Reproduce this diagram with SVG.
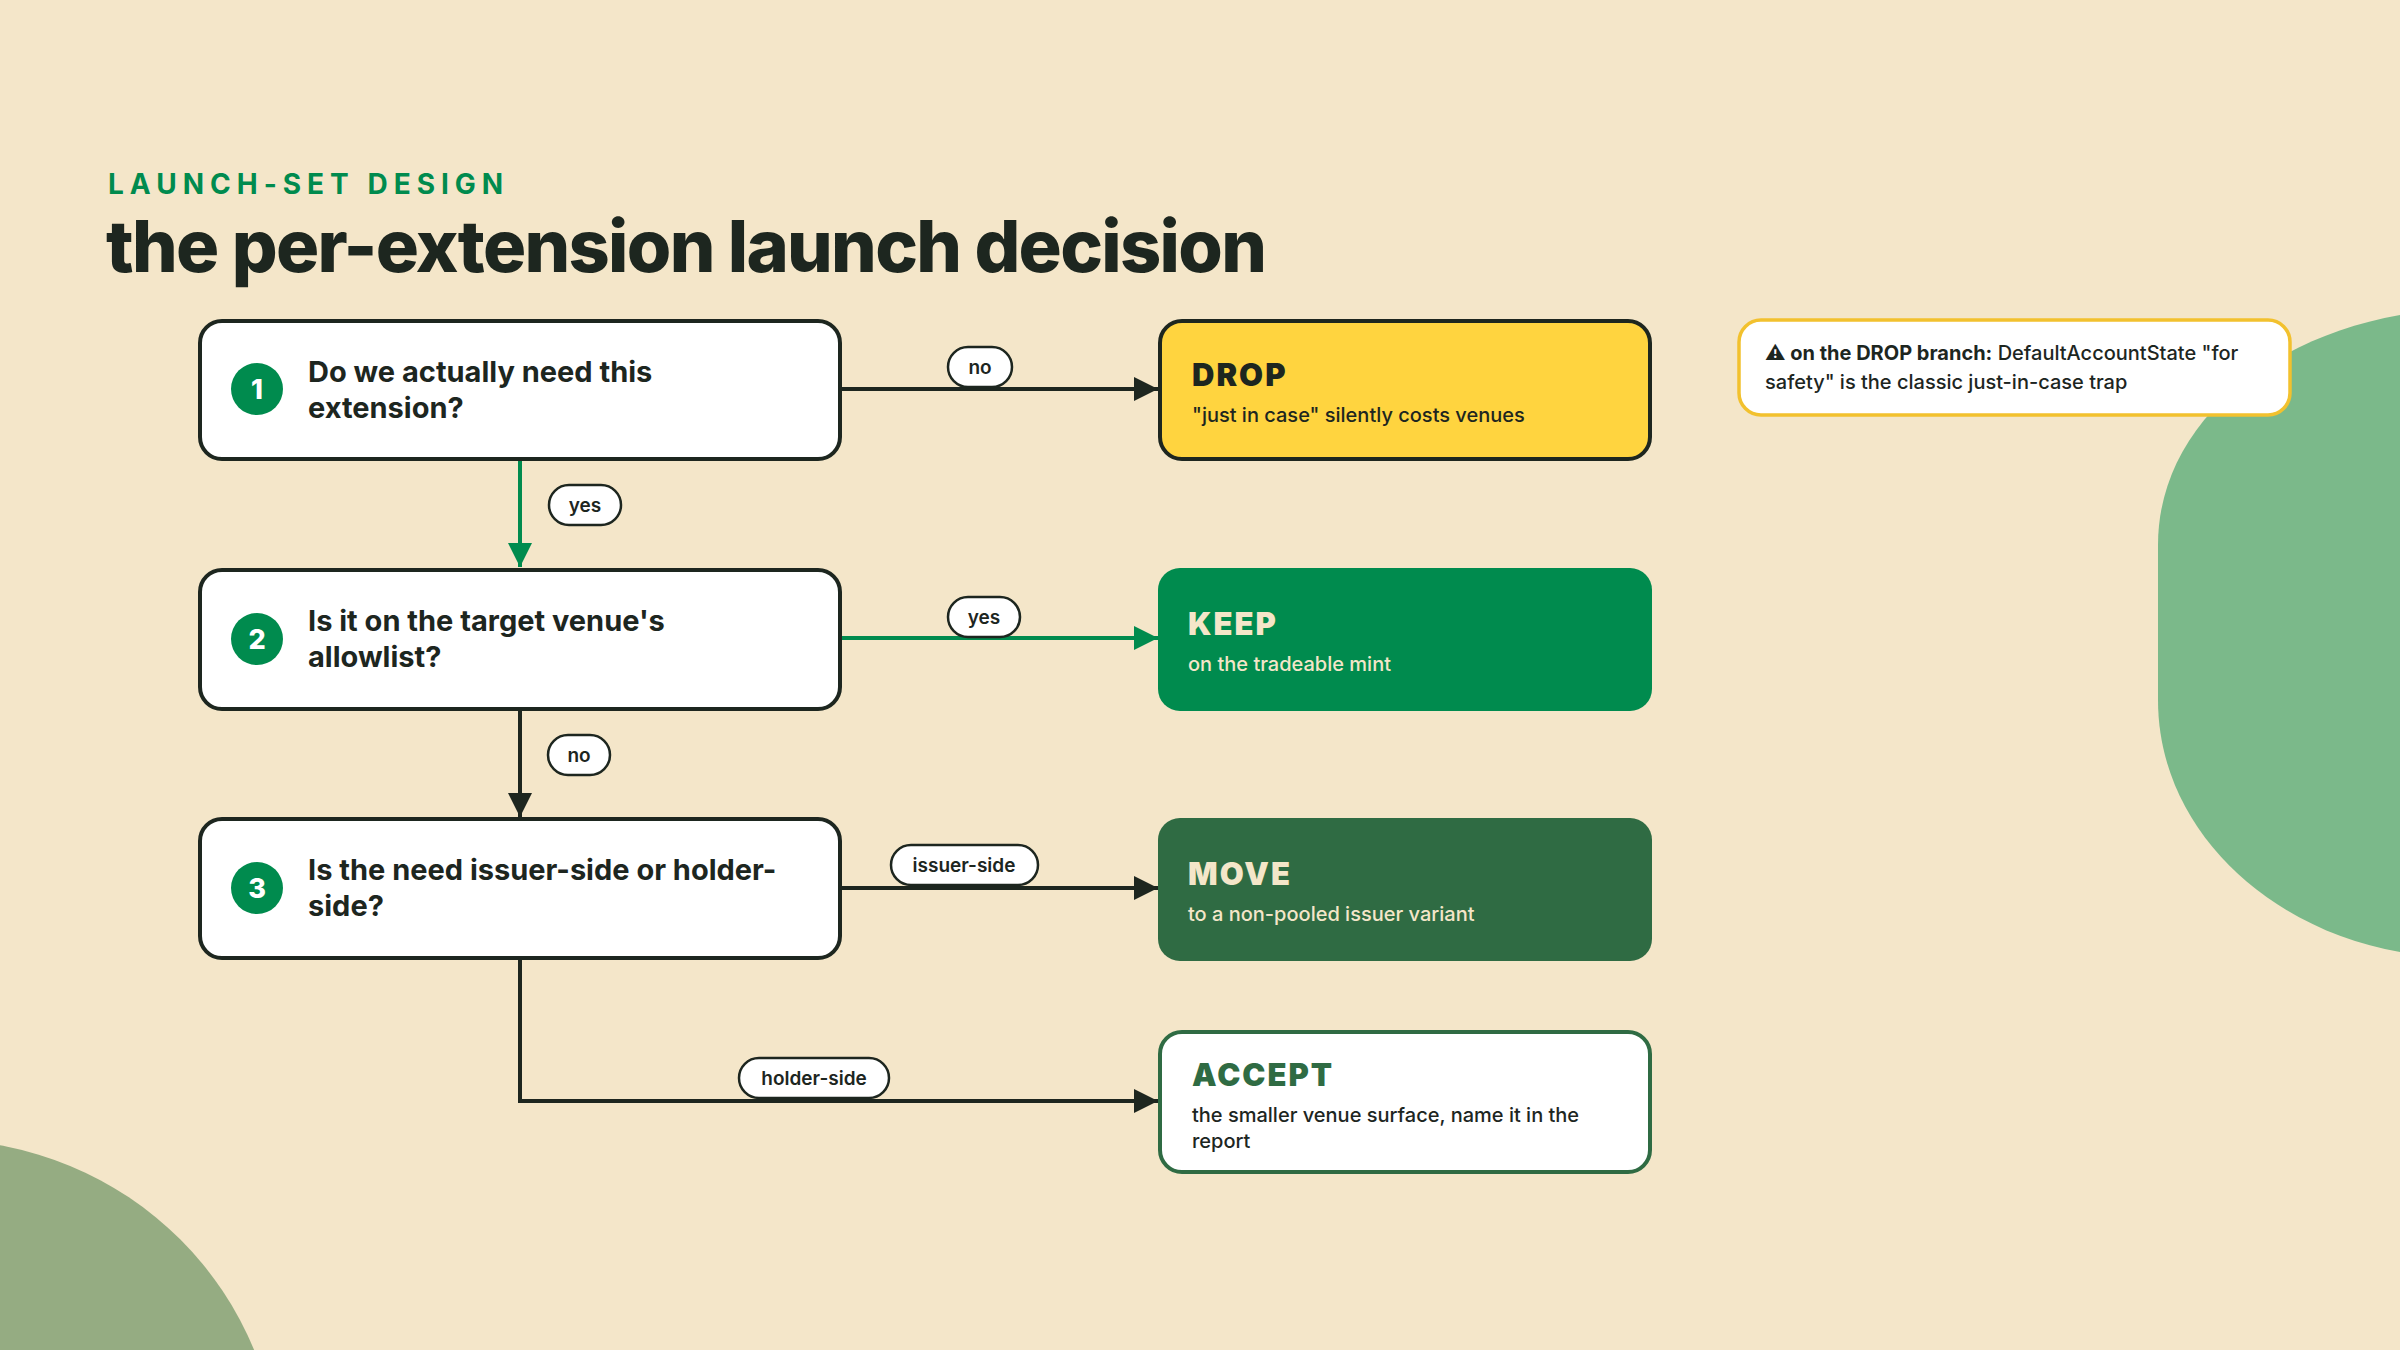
<svg xmlns="http://www.w3.org/2000/svg" width="2400" height="1350" viewBox="0 0 2400 1350">
<defs>
<style>
.q{fill:#fff;stroke:#1d261f;stroke-width:4}
.qt{font-family:Inter,"Noto Sans",sans-serif;font-weight:700;font-size:29px;fill:#1d261f}
.num{font-family:Inter,sans-serif;font-weight:800;font-size:27px;fill:#fff;text-anchor:middle}
.rt{font-family:Inter,sans-serif;font-weight:900;font-size:31px;letter-spacing:2px}
.rs{font-family:Inter,sans-serif;font-weight:500;font-size:20px}
.pill{fill:#fff;stroke:#1d261f;stroke-width:2.5}
.pt{font-family:Inter,sans-serif;font-weight:600;font-size:19px;fill:#1d261f;text-anchor:middle}
.d{stroke:#1d261f;stroke-width:4;fill:none}
.g{stroke:#008b4e;stroke-width:4;fill:none}
</style>
<marker id="ad" viewBox="0 0 10 10" refX="10" refY="5" markerWidth="6" markerHeight="6" markerUnits="strokeWidth" orient="auto"><path d="M0,0L10,5L0,10z" fill="#1d261f"/></marker>
<marker id="ag" viewBox="0 0 10 10" refX="10" refY="5" markerWidth="6" markerHeight="6" markerUnits="strokeWidth" orient="auto"><path d="M0,0L10,5L0,10z" fill="#008b4e"/></marker>
</defs>
<rect width="2400" height="1350" fill="#f4e6c9"/>
<path d="M2400,315 C2260,340 2158,430 2158,545 V700 C2158,830 2270,930 2400,952 Z" fill="#7bb98a"/>
<circle cx="-60" cy="1480" r="340" fill="#95ac82"/>
<text x="108" y="194" font-family="Inter,sans-serif" font-weight="700" font-size="28" letter-spacing="6" fill="#008b4e">LAUNCH-SET DESIGN</text>
<text x="106" y="272" font-family="Inter,sans-serif" font-weight="800" font-size="72" letter-spacing="-1.7" fill="#1d261f">the per-extension launch decision</text>
<g id="connectors">
<path class="d" d="M840,389H1158" marker-end="url(#ad)"/>
<path class="g" d="M520,459V567" marker-end="url(#ag)"/>
<path class="g" d="M840,638H1158" marker-end="url(#ag)"/>
<path class="d" d="M520,709V817" marker-end="url(#ad)"/>
<path class="d" d="M840,888H1158" marker-end="url(#ad)"/>
<path class="d" d="M520,958V1101H1158" marker-end="url(#ad)"/>
<rect class="pill" x="948" y="347" width="64" height="40" rx="20"/><text class="pt" x="980" y="374">no</text>
<rect class="pill" x="549" y="485" width="72" height="40" rx="20"/><text class="pt" x="585" y="512">yes</text>
<rect class="pill" x="948" y="597" width="72" height="40" rx="20"/><text class="pt" x="984" y="624">yes</text>
<rect class="pill" x="548" y="735" width="62" height="40" rx="20"/><text class="pt" x="579" y="762">no</text>
<rect class="pill" x="891" y="845" width="147" height="40" rx="20"/><text class="pt" x="964" y="872">issuer-side</text>
<rect class="pill" x="739" y="1058" width="150" height="40" rx="20"/><text class="pt" x="814" y="1085">holder-side</text>
</g>
<g id="q1"><rect class="q" x="200" y="321" width="640" height="138" rx="22"/><circle cx="257" cy="389" r="26" fill="#008b4e"/><text class="num" x="257" y="399">1</text><text class="qt" x="308" y="382">Do we actually need this</text><text class="qt" x="308" y="418">extension?</text></g>
<g id="q2"><rect class="q" x="200" y="570" width="640" height="139" rx="22"/><circle cx="257" cy="639" r="26" fill="#008b4e"/><text class="num" x="257" y="649">2</text><text class="qt" x="308" y="631">Is it on the target venue's</text><text class="qt" x="308" y="667">allowlist?</text></g>
<g id="q3"><rect class="q" x="200" y="819" width="640" height="139" rx="22"/><circle cx="257" cy="888" r="26" fill="#008b4e"/><text class="num" x="257" y="898">3</text><text class="qt" x="308" y="880">Is the need issuer-side or holder-</text><text class="qt" x="308" y="916">side?</text></g>
<g id="drop"><rect x="1160" y="321" width="490" height="138" rx="22" fill="#ffd43f" stroke="#1d261f" stroke-width="4"/><text class="rt" x="1192" y="386" fill="#1d261f">DROP</text><text class="rs" x="1192" y="422" fill="#1d261f">"just in case" silently costs venues</text></g>
<g id="keep"><rect x="1158" y="568" width="494" height="143" rx="22" fill="#008b4e"/><text class="rt" x="1188" y="635" fill="#f4e6c9">KEEP</text><text class="rs" x="1188" y="671" fill="#f4e6c9">on the tradeable mint</text></g>
<g id="move"><rect x="1158" y="818" width="494" height="143" rx="22" fill="#2f6b43"/><text class="rt" x="1188" y="885" fill="#f4e6c9">MOVE</text><text class="rs" x="1188" y="921" fill="#f4e6c9">to a non-pooled issuer variant</text></g>
<g id="accept"><rect x="1160" y="1032" width="490" height="140" rx="22" fill="#fff" stroke="#2f6b43" stroke-width="4"/><text class="rt" x="1192" y="1086" fill="#2f6b43">ACCEPT</text><text class="rs" x="1192" y="1122" fill="#1d261f">the smaller venue surface, name it in the</text><text class="rs" x="1192" y="1148" fill="#1d261f">report</text></g>
<g id="note"><rect x="1739" y="320" width="551" height="95" rx="22" fill="#fff" stroke="#f2c12e" stroke-width="3.5"/><text class="rs" x="1765" y="360" fill="#1d261f"><tspan font-weight="700">⚠ on the DROP branch:</tspan> DefaultAccountState "for</text><text class="rs" x="1765" y="389" fill="#1d261f">safety" is the classic just-in-case trap</text></g>
</svg>
